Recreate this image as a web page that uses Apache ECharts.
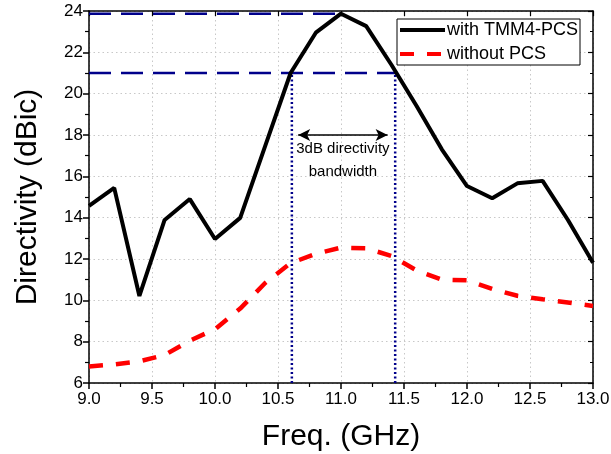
<!DOCTYPE html>
<html><head><meta charset="utf-8">
<script src="https://cdn.jsdelivr.net/npm/echarts@6/dist/echarts.min.js"></script>
<style>html,body{margin:0;padding:0;background:#fff}#c{width:611px;height:454px}</style>
</head><body><div id="c"></div>
<script>
const freq = [9.0,9.2,9.4,9.6,9.8,10.0,10.2,10.4,10.6,10.8,11.0,11.2,11.4,11.6,11.8,12.0,12.2,12.4,12.6,12.8,13.0];
const withPCS = [14.57,15.44,10.21,13.89,14.9,12.97,13.99,17.5,21.0,22.95,23.87,23.27,21.4,19.4,17.31,15.53,14.94,15.66,15.78,13.9,11.82];
const withoutPCS = [6.8,6.9,7.05,7.35,8.05,8.6,9.6,10.85,11.8,12.25,12.55,12.52,12.15,11.45,11.0,10.97,10.55,10.22,10.05,9.9,9.73];
const peakLevel = 23.87, halfLevel = 21.0;
const bwLow = 10.61, bwHigh = 11.43;
const arrowLevel = 18, arrowFrom = 10.66, arrowTo = 11.37;
const xTicks = [9.0,9.5,10.0,10.5,11.0,11.5,12.0,12.5,13.0];
const yTicks = [6,8,10,12,14,16,18,20,22,24];

const chart = echarts.init(document.getElementById('c'));
const F = 'Liberation Sans, Arial, sans-serif';
const navy = '#00008b';
const grid = {left:89, right:18, top:11, bottom:71, containLabel:false, outerBoundsMode:'none'};
const axisLine = {show:true, lineStyle:{color:'#000', width:1.5}};
chart.setOption({
  animation:false,
  grid: grid,
  legend: {
    left: 397, top: 19, orient:'vertical', itemWidth: 45, itemHeight: 14, itemGap: 6,
    borderColor:'#000', borderWidth:1, backgroundColor:'#fff', padding:[2,2,2,1],
    itemStyle:{opacity:0},
    lineStyle:{width:4},
    textStyle:{fontFamily:F, fontSize:18, color:'#000', padding:[0,0,0,-3]},
    data:['with TMM4-PCS','without PCS']
  },
  xAxis: [{
    type:'value', min:xTicks[0], max:xTicks[xTicks.length-1], interval:0.5,
    axisLine: axisLine,
    axisTick:{show:true, inside:false, length:6, lineStyle:{color:'#000', width:1.5}},
    minorTick:{show:true, splitNumber:2, length:4, lineStyle:{color:'#000', width:1.2}},
    axisLabel:{fontFamily:F, fontSize:17, color:'#000', margin:8, formatter:v=>v.toFixed(1)},
    splitLine:{show:true, lineStyle:{color:'#c8c8c8', type:[1.5,3], width:1}},
    name:'Freq. (GHz)', nameLocation:'middle', nameGap:39,
    nameTextStyle:{fontFamily:F, fontSize:30, color:'#000'}
  },{
    type:'value', min:9, max:13, interval:0.5, position:'top',
    axisLine: axisLine,
    axisTick:{show:true, inside:true, length:5, lineStyle:{color:'#000', width:1.2}},
    axisLabel:{show:false}, splitLine:{show:false}
  }],
  yAxis: [{
    type:'value', min:yTicks[0], max:yTicks[yTicks.length-1], interval:2,
    axisLine: axisLine,
    axisTick:{show:true, inside:false, length:6, lineStyle:{color:'#000', width:1.5}},
    minorTick:{show:true, splitNumber:2, length:4, lineStyle:{color:'#000', width:1.2}},
    axisLabel:{fontFamily:F, fontSize:17, color:'#000', margin:6},
    splitLine:{show:true, lineStyle:{color:'#c8c8c8', type:[1.5,3], width:1}},
    name:'Directivity (dBic)', nameLocation:'middle', nameGap:46,
    nameTextStyle:{fontFamily:F, fontSize:30, color:'#000'}
  },{
    type:'value', min:6, max:24, interval:2, position:'right',
    axisLine: axisLine,
    axisTick:{show:true, inside:true, length:5, lineStyle:{color:'#000', width:1.2}},
    minorTick:{show:true, splitNumber:2, length:3},
    axisLabel:{show:false}, splitLine:{show:false}
  }],
  series: [
    {name:'peak', type:'line', symbol:'none', silent:true, z:1,
     data:[[freq[0],peakLevel],[11.0,peakLevel]],
     lineStyle:{color:navy, width:2.5, type:[22,10]}},
    {name:'half', type:'line', symbol:'none', silent:true, z:1,
     data:[[freq[0],halfLevel],[bwHigh,halfLevel]],
     lineStyle:{color:navy, width:2.5, type:[22,10]}},
    {name:'vlow', type:'line', symbol:'none', silent:true, z:1,
     data:[[bwLow,yTicks[0]],[bwLow,halfLevel]],
     lineStyle:{color:navy, width:2.5, type:[2,2.5]}},
    {name:'vhigh', type:'line', symbol:'none', silent:true, z:1,
     data:[[bwHigh,yTicks[0]],[bwHigh,halfLevel]],
     lineStyle:{color:navy, width:2.5, type:[2,2.5]}},
    {name:'arrow', type:'line', symbol:'none', silent:true, z:1,
     data:[],
     markLine:{silent:true, symbol:['arrow','arrow'], symbolSize:[9,12],
       label:{show:false}, lineStyle:{color:'#000', width:1.5, type:'solid'},
       data:[[{coord:[arrowFrom,arrowLevel]},{coord:[arrowTo,arrowLevel]}]]}},
    {name:'with TMM4-PCS', type:'line', symbol:'none', z:3,
     data: freq.map((f,i)=>[f,withPCS[i]]),
     lineStyle:{color:'#000', width:4}, itemStyle:{color:'#000'}},
    {name:'without PCS', type:'line', symbol:'none', z:3,
     data: freq.map((f,i)=>[f,withoutPCS[i]]),
     lineStyle:{color:'#ff0000', width:4.5, type:[14,13]}, itemStyle:{color:'#ff0000'}}
  ]
});
const p = chart.convertToPixel({xAxisIndex:0, yAxisIndex:0}, [(arrowFrom+arrowTo)/2, arrowLevel]);
chart.setOption({graphic:[
  {type:'text', x:p[0], y:p[1]+6, style:{text:'3dB directivity', fontFamily:F, fontSize:15, fill:'#000', align:'center', verticalAlign:'top'}},
  {type:'text', x:p[0], y:p[1]+29, style:{text:'bandwidth', fontFamily:F, fontSize:15, fill:'#000', align:'center', verticalAlign:'top'}}
]});
</script></body></html>
